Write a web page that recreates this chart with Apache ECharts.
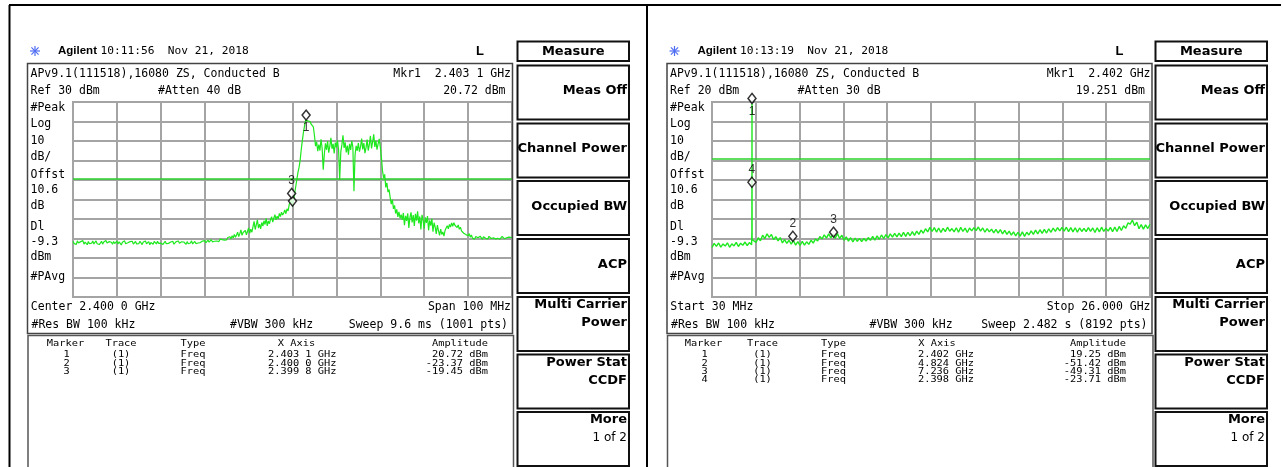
<!DOCTYPE html>
<html>
<head>
<meta charset="utf-8">
<title>Spectrum analyzer screens</title>
<script src="https://cdn.jsdelivr.net/npm/echarts/dist/echarts.min.js"></script>
<style>
  html, body { margin: 0; padding: 0; background: #fff; }
  #chart { width: 1283px; height: 467px; }
</style>
</head>
<body>
<div id="chart"></div>
<script>
// ---------- Left screen: centre 2.400 GHz, span 100 MHz ----------
const leftStartMHz = 2350;
const leftStopMHz = 2450;
const leftStepMHz = 0.25;
const leftRefDbm = 30;
const leftLevels = [
  -41.4, -42.6, -41.9, -43.0, -41.2, -42.3, -42.8, -41.6, -42.5, -41.1, -42.9, -41.8, -42.2, -43.2, -41.5, -42.7, -41.9, -42.4, -41.3, -42.8,
  -42.0, -41.2, -42.7, -41.7, -43.1, -42.2, -41.4, -42.9, -41.8, -42.5, -41.0, -42.3, -42.9, -41.6, -42.4, -41.9, -43.0, -41.5, -42.6, -42.1,
  -41.3, -42.8, -41.7, -42.4, -43.3, -41.9, -42.5, -41.2, -42.7, -41.8, -42.2, -43.0, -41.6, -42.6, -41.4, -42.9, -42.0, -41.5, -42.8, -41.9,
  -42.6, -41.4, -42.2, -43.1, -41.8, -42.5, -41.3, -42.7, -42.0, -41.6, -43.2, -42.1, -41.7, -42.9, -41.5, -42.3, -42.8, -41.4, -42.5, -41.9,
  -42.4, -41.6, -43.0, -42.1, -41.4, -42.7, -41.9, -42.5, -43.1, -41.8, -42.3, -41.5, -42.9, -42.0, -41.6, -42.6, -41.3, -42.4, -42.8, -41.7,
  -42.5, -41.8, -42.2, -43.0, -41.6, -42.7, -41.9, -42.3, -41.2, -42.8, -42.0, -41.5, -42.6, -41.7, -42.3, -41.4, -42.1, -42.7, -41.3, -41.9,
  -41.1, -42.2, -41.5, -40.8, -41.9, -41.2, -40.6, -41.7, -40.9, -41.4, -40.5, -41.3, -40.7, -41.6, -40.3, -41.0, -40.6, -39.9, -40.8, -40.2,
  -40.7, -39.5, -40.4, -39.1, -40.2, -38.6, -39.7, -37.9, -39.4, -38.2, -36.8, -39.0, -37.5, -35.6, -38.4, -36.9, -37.8, -35.9, -38.1, -36.4,
  -34.6, -37.3, -35.2, -36.8, -33.9, -31.2, -35.4, -33.0, -30.4, -34.7, -32.6, -35.1, -31.8, -33.6, -30.9, -32.8, -29.7, -33.5, -31.0, -32.4,
  -30.2, -28.9, -31.6, -29.5, -27.8, -30.4, -28.6, -29.9, -27.1, -28.8, -26.5, -28.0, -26.9, -25.4, -27.3, -24.8, -25.9, -22.6, -21.4, -19.9,
  -23.37, -20.5, -16.8, -13.2, -9.6, -6.1, -3.4, 0.2, 5.8, 10.3, 14.6, 17.9, 20.72, 19.8, 20.3, 19.4, 20.0, 18.6, 19.5, 17.2,
  12.8, 7.4, 9.6, 4.8, 8.2, 5.1, 10.9, 6.3, -4.7, 3.2, 8.8, 5.5, 9.9, 4.0, 7.3, 11.6, 6.0, 8.5, 3.6, 9.2,
  6.7, 10.4, 5.2, -9.8, 4.4, 8.0, 12.9, 6.5, 9.3, 4.2, 7.7, 3.0, 8.6, 5.4, 10.1, 6.8, -15.8, 2.9, 7.5, 5.0,
  9.0, 4.5, 7.1, 11.2, 5.7, 8.9, 3.8, 6.6, 10.7, 5.1, 8.1, 12.6, 6.2, 9.5, 13.4, 7.0, 10.2, 5.6, 8.4, 11.1,
  6.9, 1.5, -5.2, -9.0, -7.1, -13.8, -11.5, -16.2, -14.9, -19.0, -22.4, -20.1, -24.8, -23.0, -27.2, -25.1, -28.9, -26.3, -29.6, -27.8,
  -30.5, -26.9, -33.2, -28.4, -31.0, -27.1, -34.6, -29.3, -26.6, -31.8, -28.0, -33.5, -27.4, -30.9, -26.1, -32.2, -28.7, -35.3, -27.9, -30.6,
  -34.9, -29.2, -32.0, -28.5, -35.8, -30.7, -33.4, -29.8, -36.5, -31.9, -34.2, -37.6, -33.1, -36.0, -38.4, -35.2, -37.9, -36.6, -38.8, -35.9,
  -34.6, -33.4, -35.0, -32.8, -34.1, -32.0, -33.7, -31.9, -33.2, -32.6, -34.4, -33.0, -35.3, -34.2, -36.1, -35.4, -37.3, -36.4, -38.0, -37.1,
  -38.6, -37.5, -39.3, -38.2, -39.8, -38.9, -40.3, -39.0, -38.4, -39.6, -40.1, -38.8, -39.4, -40.4, -39.1, -38.7, -39.9, -39.3, -40.2, -38.9,
  -39.5, -40.0, -39.0, -39.7, -38.8, -40.2, -39.4, -39.9, -39.1, -40.3, -39.6, -38.9, -39.8, -40.1, -39.2, -39.7, -40.0, -39.3, -39.8, -39.4,
  -39.7
];
const leftMarkerGHz = [2.4031, 2.4000, 2.3998];
const leftMarkerDbm = [20.72, -23.37, -19.45];

// ---------- Right screen: 30 MHz to 26 GHz sweep ----------
const rightStartMHz = 30;
const rightStopMHz = 26000;
const rightRefDbm = 20;
const rightLevels = [
  -54.6, -52.5, -54.0, -52.3, -54.4, -52.8, -53.9, -52.2, -54.5, -52.7,
  -53.8, -52.0, -54.1, -52.4, -53.5, -51.8, -53.6, -52.1, -53.2, -50.8,
  -52.0, -49.6, -51.2, -48.3, -50.1, -47.6, -49.4, -47.9, -50.6, -49.0,
  -51.2, -49.5, -52.3, -50.6, -52.5, -50.9, -52.9, -51.0, -53.4, -51.6,
  -53.6, -51.5, -53.4, -51.7, -53.0, -50.9, -52.4, -50.2, -51.3, -49.0,
  -50.2, -48.1, -49.8, -47.6, -49.7, -47.9, -49.9, -47.5, -50.0, -48.3,
  -50.9, -49.2, -51.4, -49.6, -51.8, -49.8, -51.5, -49.9, -51.6, -50.0,
  -51.3, -49.5, -51.0, -48.9, -50.8, -48.6, -50.4, -48.2, -50.0, -48.0,
  -49.7, -47.6, -49.3, -47.4, -49.2, -47.2, -49.0, -46.9, -48.9, -46.8,
  -48.6, -46.5, -48.4, -46.2, -47.9, -45.7, -47.3, -45.0, -46.6, -44.3,
  -46.4, -44.4, -46.7, -44.6, -46.9, -44.8, -46.5, -44.2, -46.3, -44.9,
  -46.6, -44.5, -46.8, -44.3, -46.4, -44.7, -46.9, -44.6, -46.1, -44.4,
  -45.9, -44.1, -46.2, -44.6, -46.8, -44.9, -46.6, -45.2, -47.1, -45.3,
  -47.2, -45.4, -47.6, -45.8, -47.9, -46.2, -48.3, -46.6, -48.7, -46.8,
  -48.8, -46.6, -48.9, -46.8, -48.2, -46.1, -47.9, -45.7, -47.6, -45.5,
  -47.4, -45.3, -47.2, -45.0, -46.8, -44.7, -46.3, -44.4, -46.1, -44.3,
  -46.2, -44.2, -46.5, -44.4, -46.6, -44.5, -46.7, -44.6, -46.4, -44.8,
  -46.5, -44.4, -46.3, -44.6, -46.9, -44.5, -46.6, -44.2, -46.4, -44.7,
  -46.2, -44.3, -46.5, -44.1, -46.4, -43.8, -45.9, -43.5, -44.8, -42.0,
  -42.6, -40.5, -43.4, -41.6, -45.0, -42.9, -45.2, -43.0, -44.9, -42.7
];
// carrier at 2.4 GHz (narrow spike in the wide sweep)
const rightCarrierMHz = [2395, 2398, 2402, 2405, 2408];
const rightCarrierDbm = [-46.0, -23.71, 19.25, -31.0, -50.5];
const rightMarkerGHz = [2.402, 4.824, 7.236, 2.398];
const rightMarkerDbm = [19.25, -51.42, -49.31, -23.71];

const displayLineDbm = -9.3;
const softkeyLabels = [
  ['Meas Off'], ['Channel Power'], ['Occupied BW'], ['ACP'],
  ['Multi Carrier', 'Power'], ['Power Stat', 'CCDF'], ['More', '1 of 2']
];

// ---------- build series data ----------
const leftTrace = leftLevels.map((v, i) => [leftStartMHz + i * leftStepMHz, v]);
const rightStep = (rightStopMHz - rightStartMHz) / (rightLevels.length - 1);
const rightTrace = rightLevels.map((v, i) => [rightStartMHz + i * rightStep, v])
  .concat(rightCarrierMHz.map((f, i) => [f, rightCarrierDbm[i]]))
  .sort((a, b) => a[0] - b[0]);

const TRACE_GREEN = '#1ee81e';
const DL_GREEN = '#2ad22a';
const MONO = '"DejaVu Sans Mono", "Liberation Mono", monospace';
const SCREEN_FONT = '11.5px ' + MONO;
const TABLE_FONT = '9px ' + MONO;
const TABLE_SX = 1.15;
const KEY_FONT = 'bold 13px "DejaVu Sans", sans-serif';

function markerSeries(xIdx, yIdx, ghz, dbm, labelPos) {
  return {
    type: 'scatter', xAxisIndex: xIdx, yAxisIndex: yIdx, clip: false, z: 5,
    symbol: 'diamond', symbolSize: [8, 10], symbolOffset: [0, -5],
    itemStyle: { color: '#fff', borderColor: '#000', borderWidth: 1.5 },
    data: ghz.map((g, i) => ({
      value: [g * 1000, dbm[i]],
      label: {
        show: labelPos[i] !== null,
        position: labelPos[i] || 'top',
        distance: 1,
        formatter: String(i + 1),
        font: '9.5px ' + MONO, color: '#000'
      }
    }))
  };
}

// ---------- graphic helpers ----------
function txt(x, y, s, font, align, sx) {
  return {
    type: 'text', x: x, y: y, silent: true, z: 20, scaleX: sx || 1,
    style: {
      text: s, font: font || SCREEN_FONT, fill: '#000',
      align: align || 'left', verticalAlign: 'middle',
      textAlign: align || 'left', textVerticalAlign: 'middle'
    }
  };
}
function line(x1, y1, x2, y2, stroke, lw) {
  return { type: 'line', silent: true, z: 20, shape: { x1, y1, x2, y2 },
    style: { stroke: stroke || '#000', lineWidth: lw || 1 } };
}
function box(x, y, w, h, stroke, lw) {
  return { type: 'rect', silent: true, z: 20, shape: { x, y, width: w, height: h },
    style: { fill: 'none', stroke: stroke || '#000', lineWidth: lw || 1 } };
}
function star(cx, cy) {
  const c = '#4f6ef2', r = 5;
  return [
    line(cx - r, cy, cx + r, cy, c, 1.2), line(cx, cy - r, cx, cy + r, c, 1.2),
    line(cx - r * 0.72, cy - r * 0.72, cx + r * 0.72, cy + r * 0.72, c, 1.2),
    line(cx - r * 0.72, cy + r * 0.72, cx + r * 0.72, cy - r * 0.72, c, 1.2)
  ];
}
function softkeys(x0) {
  const w = 111.5;
  const els = [box(x0, 41.5, w, 19.5, '#111', 2), txt(x0 + w / 2, 51.5, 'Measure', KEY_FONT, 'center')];
  const tops = [65.5, 123.5, 181, 239, 297, 354.5, 412];
  softkeyLabels.forEach((lab, i) => {
    const t = tops[i];
    els.push(box(x0, t, w, 54, '#111', 2));
    if (lab.length === 1) {
      els.push(txt(x0 + w - 2, t + 25.5, lab[0], KEY_FONT, 'right'));
    } else {
      els.push(txt(x0 + w - 2, t + 8, lab[0], KEY_FONT, 'right'));
      const second = lab[1] === '1 of 2' ? '12px "DejaVu Sans", sans-serif' : KEY_FONT;
      els.push(txt(x0 + w - 2, t + 26, lab[1], second, 'right'));
    }
  });
  return els;
}
const sideLabels = [['#Peak', 108.3], ['Log', 124], ['10', 140.7], ['dB/', 156.7], ['Offst', 175],
  ['10.6', 190], ['dB', 206], ['Dl', 226.7], ['-9.3', 241.7], ['dBm', 256.7], ['#PAvg', 277.3]];

function ghz4(g) { const s = g.toFixed(4); return s.slice(0, -1) + ' ' + s.slice(-1) + ' GHz'; }
function ghz3(g) { return g.toFixed(3) + ' GHz'; }

function markerTable(cols, ghz, dbm, fmt) {
  const T = (x, y, s, a) => txt(x, y, s, TABLE_FONT, a, TABLE_SX);
  const els = [
    T(cols.mk, 343.3, 'Marker', 'center'),
    T(cols.tr, 343.3, 'Trace', 'center'),
    T(cols.ty, 343.3, 'Type', 'left'),
    T(cols.xh, 343.3, 'X Axis', 'center'),
    T(cols.amp, 343.3, 'Amplitude', 'right')
  ];
  ghz.forEach((g, i) => {
    const y = 355 + i * 8.35;
    els.push(T(cols.mk + 1, y, String(i + 1), 'center'));
    els.push(T(cols.tr, y, '(1)', 'center'));
    els.push(T(cols.ty, y, 'Freq', 'left'));
    els.push(T(cols.xv, y, fmt(g), 'right'));
    els.push(T(cols.amp, y, dbm[i].toFixed(2) + ' dBm', 'right'));
  });
  return els;
}

function screen(p) {
  let els = [];
  els = els.concat(star(p.ox + 35, 51));
  els.push(txt(p.ox + 58, 51, 'Agilent', 'bold 11.5px "Liberation Sans", Arial, sans-serif'));
  els.push(txt(p.ox + 100.5, 51, p.time, '11.2px ' + MONO));
  els.push(txt(p.ox + 480, 51, 'L', 'bold 13px "Liberation Sans", Arial, sans-serif', 'center'));
  els.push(box(p.ox + 27.5, 63.5, 485, 270, '#444', 1.5));
  els.push(txt(p.ox + 30.5, 74.5, 'APv9.1(111518),16080 ZS, Conducted B'));
  els.push(txt(p.ox + 511, 74.5, p.mkr, SCREEN_FONT, 'right'));
  els.push(txt(p.ox + 30.5, 90.7, p.ref));
  els.push(txt(p.ox + 158, 90.7, p.atten));
  els.push(txt(p.ox + 505.5, 90.7, p.mkrAmp, SCREEN_FONT, 'right'));
  sideLabels.forEach(s => els.push(txt(p.ox + 30.5, s[1], s[0])));
  els.push(txt(p.ox + 30.8, 306.7, p.b1l));
  els.push(txt(p.ox + 511, 306.7, p.b1r, SCREEN_FONT, 'right'));
  els.push(txt(p.ox + 31.5, 325, '#Res BW 100 kHz'));
  els.push(txt(p.ox + 230, 325, '#VBW 300 kHz'));
  els.push(txt(p.ox + 508, 325, p.sweep, SCREEN_FONT, 'right'));
  els.push(box(p.ox + 28, 335.5, 485.5, 140, '#555', 1.5));
  return els;
}

const graphics = [].concat(
  [line(9.5, 5, 9.5, 470, '#000', 2), line(9, 5, 1281, 5, '#000', 2), line(647, 5, 647, 470, '#000', 2)],
  screen({ ox: 0, time: '10:11:56  Nov 21, 2018', mkr: 'Mkr1  ' + ghz4(leftMarkerGHz[0]),
    ref: 'Ref ' + leftRefDbm + ' dBm', atten: '#Atten 40 dB', mkrAmp: leftMarkerDbm[0].toFixed(2) + ' dBm',
    b1l: 'Center 2.400 0 GHz', b1r: 'Span 100 MHz', sweep: 'Sweep 9.6 ms (1001 pts)' }),
  screen({ ox: 639.5, time: '10:13:19  Nov 21, 2018', mkr: 'Mkr1  ' + ghz3(rightMarkerGHz[0]),
    ref: 'Ref ' + rightRefDbm + ' dBm', atten: '#Atten 30 dB', mkrAmp: '19.251 dBm',
    b1l: 'Start 30 MHz', b1r: 'Stop 26.000 GHz', sweep: 'Sweep 2.482 s (8192 pts)' }),
  markerTable({ mk: 65.5, tr: 121, ty: 180.5, xh: 296.5, xv: 336.5, amp: 488 }, leftMarkerGHz, leftMarkerDbm, ghz4),
  markerTable({ mk: 703.5, tr: 762.5, ty: 821, xh: 937, xv: 974, amp: 1126 }, rightMarkerGHz, rightMarkerDbm, ghz3),
  softkeys(517.5),
  softkeys(1155.5)
);

// ---------- axes ----------
const gridLine = { show: true, lineStyle: { color: '#a4a4a4', width: 2 } };
function divAxis(g) {
  return { type: 'value', gridIndex: g, min: 0, max: 10, interval: 1,
    axisLine: { show: false }, axisTick: { show: false }, axisLabel: { show: false }, splitLine: gridLine };
}
function freqAxis(g, lo, hi) {
  return { type: 'value', gridIndex: g, min: lo, max: hi, show: false, splitLine: { show: false } };
}
function levelAxis(g, ref) {
  return { type: 'value', gridIndex: g, min: ref - 100, max: ref, interval: 10,
    axisLine: { show: false }, axisTick: { show: false }, axisLabel: { show: false }, splitLine: gridLine };
}
function displayLine() {
  return { silent: true, symbol: ['none', 'none'], label: { show: false },
    lineStyle: { color: DL_GREEN, width: 1.5, type: 'solid' }, data: [{ yAxis: displayLineDbm }] };
}

const chart = echarts.init(document.getElementById('chart'), null, { renderer: 'canvas' });
chart.setOption({
  animation: false,
  backgroundColor: '#fff',
  grid: [
    { left: 73, top: 102, width: 439, height: 195, show: true, borderColor: '#5a5a5a', borderWidth: 1.5 },
    { left: 712, top: 102, width: 438, height: 195, show: true, borderColor: '#5a5a5a', borderWidth: 1.5 }
  ],
  xAxis: [divAxis(0), freqAxis(0, leftStartMHz, leftStopMHz), divAxis(1), freqAxis(1, rightStartMHz, rightStopMHz)],
  yAxis: [levelAxis(0, leftRefDbm), levelAxis(1, rightRefDbm)],
  series: [
    { type: 'line', xAxisIndex: 1, yAxisIndex: 0, data: leftTrace, showSymbol: false, z: 3,
      lineStyle: { color: TRACE_GREEN, width: 1.2 }, markLine: displayLine() },
    { type: 'line', xAxisIndex: 3, yAxisIndex: 1, data: rightTrace, showSymbol: false, z: 3,
      lineStyle: { color: TRACE_GREEN, width: 1.4 }, markLine: displayLine() },
    markerSeries(1, 0, leftMarkerGHz, leftMarkerDbm, ['bottom', null, 'top']),
    markerSeries(3, 1, rightMarkerGHz, rightMarkerDbm, ['bottom', 'top', 'top', 'top'])
  ],
  graphic: { elements: graphics }
});
</script>
</body>
</html>
